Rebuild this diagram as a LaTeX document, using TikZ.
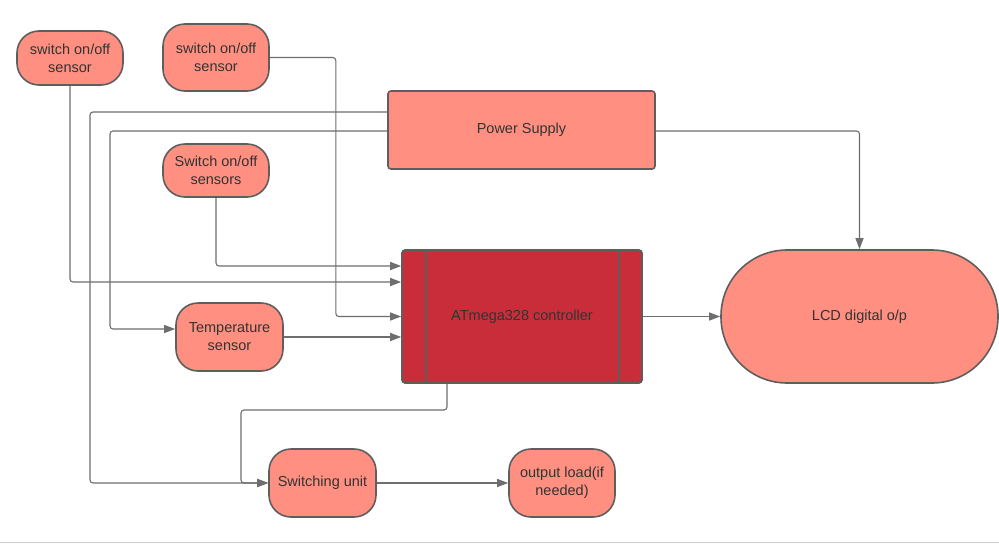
\documentclass[tikz,border=0pt]{standalone}
\usepackage{fontspec}
\setmainfont{Liberation Sans}
\usetikzlibrary{arrows.meta}
\definecolor{salmon}{HTML}{FF8F80}
\definecolor{ared}{HTML}{C92D39}
\definecolor{bord}{HTML}{5E5E5E}
\definecolor{wire}{HTML}{6E6E6E}
\definecolor{txt}{HTML}{333333}
\definecolor{pageline}{HTML}{CCCCCC}
\begin{document}
\begin{tikzpicture}[x=1pt,y=-1pt,
  box/.style={draw=bord, line width=1.6pt, fill=salmon, text=txt, align=center,
    inner sep=0pt, font=\fontsize{14.5}{18}\selectfont},
  pill/.style={box, rounded corners=22pt},
  sq/.style={box, rounded corners=3pt},
  wirel/.style={draw=wire, line width=1.1pt, rounded corners=3pt},
  arr/.style={wirel, -{Triangle[length=11pt,width=8pt]}},
]
\useasboundingbox (0,0) rectangle (999,544);
\fill[white] (0,0) rectangle (999,544);

\node[pill, minimum width=106pt, minimum height=54pt] (s1) at (70,58) {switch on/off\\sensor};
\node[pill, minimum width=106pt, minimum height=67pt] (s2) at (216,57.5) {switch on/off\\sensor};
\node[pill, minimum width=106pt, minimum height=53pt] (s3) at (216,170.5) {Switch on/off\\sensors};
\node[sq, minimum width=267pt, minimum height=78pt] (ps) at (521.5,130) {Power Supply};
\node[sq, fill=ared, minimum width=240pt, minimum height=133pt] (mc) at (522,316.5) {ATmega328 controller};
\draw[draw=bord, line width=1.6pt] ([xshift=25pt]mc.north west) -- ([xshift=25pt]mc.south west);
\draw[draw=bord, line width=1.6pt] ([xshift=-24pt]mc.north east) -- ([xshift=-24pt]mc.south east);
\node[box, rounded corners=66pt, minimum width=277pt, minimum height=133pt] (lcd) at (859.5,316.5) {LCD digital o/p};
\node[pill, minimum width=107pt, minimum height=68pt] (ts) at (229.5,337) {Temperature\\sensor};
\node[pill, minimum width=107pt, minimum height=68pt] (su) at (322.5,483) {Switching unit};
\node[pill, minimum width=106pt, minimum height=68pt] (ol) at (562,483) {output load(if\\needed)};

% connectors
\draw[arr] (s1.south) |- ([yshift=34.5pt]mc.west);
\draw[arr] (s2.east) -- ++(66,0) |- (mc.west);
\draw[arr] (s3.south) |- ([yshift=50.5pt]mc.west);
\draw[arr] (ts.east) -- (ts.east -| mc.west);
\draw[arr] ([yshift=18pt]ps.west) -| (90,483) -- (su.west);
\draw[arr] ([yshift=-1pt]ps.west) -| (110,329) -- ([yshift=8pt]ts.west);
\draw[arr] ([xshift=-75pt]mc.south) |- (241,410) |- (su.west);
\draw[arr] (su.east) -- (ol.west);
\draw[arr] (mc.east) -- (lcd.west);
\draw[arr] ([yshift=-1pt]ps.east) -| (lcd.north);

\draw[pageline, line width=1pt] (0,542.5) -- (999,542.5);
\end{tikzpicture}
\end{document}
